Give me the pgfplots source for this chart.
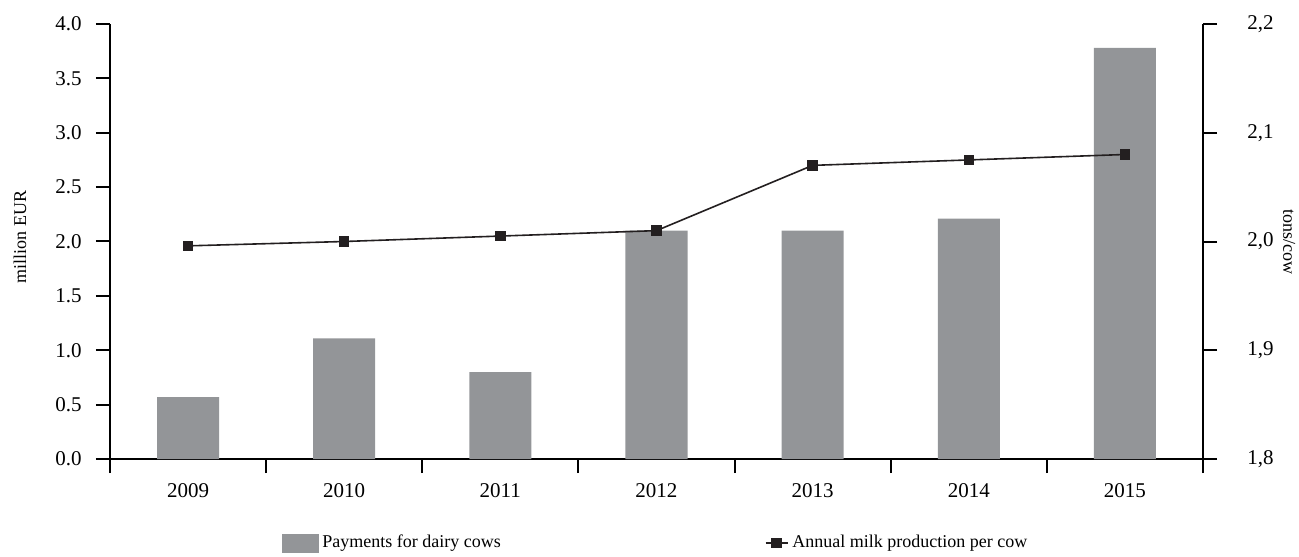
\documentclass[border=0pt]{standalone}
\usepackage{pgfplots}
\pgfplotsset{compat=1.18}
\usepackage{fontspec}
\setmainfont{Liberation Serif}

\definecolor{barcol}{RGB}{147,149,152}
\definecolor{linecol}{RGB}{35,31,32}

\pgfplotsset{
  lineleg/.style={legend image code/.code={%
    \draw[##1, mark repeat=2, mark phase=2] plot coordinates {(0pt,0pt) (5.5pt,0pt) (11pt,0pt)};}},
  barleg/.style={legend image code/.code={%
    \fill[barcol] (0pt,-4.5pt) rectangle (18pt,4.5pt);}},
}

\begin{document}
\fontsize{9}{11}\selectfont
\begin{tikzpicture}
  \pgfplotsset{
    every axis/.append style={
      scale only axis,
      width=546.5pt, height=217.5pt,
      xmin=-0.5, xmax=6.5,
      tick align=outside,
      major tick length=7pt,
      tick style={line width=1pt, color=black},
      axis line style={line width=1pt, color=black},
      tick label style={font=\fontsize{10.5}{12}\selectfont},
      label style={font=\fontsize{10.5}{12}\selectfont},
      /pgf/number format/assume math mode=true,
    },
  }
  % bars: payments
  \begin{axis}[
    axis x line*=bottom,
    axis y line*=left,
    ymin=0, ymax=4,
    ytick={0,0.5,...,4},
    yticklabel style={xshift=-4pt, /pgf/number format/.cd, fixed, fixed zerofill, precision=1},
    xtick={-0.5,0.5,...,6.5},
    xticklabels={2009,2010,2011,2012,2013,2014,2015},
    x tick label as interval,
    xticklabel style={yshift=-2pt},
    ylabel={million EUR},
    every axis y label/.style={at={(axis description cs:-0.0823,0.51)}, rotate=90, anchor=center},
    ybar, bar width=31pt,
  ]
    \addplot[fill=barcol, draw=none] coordinates {
      (0,0.57) (1,1.11) (2,0.80) (3,2.10) (4,2.10) (5,2.21) (6,3.78)
    };
  \end{axis}
  % line: milk production
  \begin{axis}[
    axis x line=none,
    axis y line*=right,
    ymin=1.8, ymax=2.2,
    ytick={1.8,1.9,...,2.2},
    yticklabel style={xshift=12pt, /pgf/number format/.cd, fixed, fixed zerofill, precision=1, use comma},
    ylabel={tons/cow},
    every axis y label/.style={at={(axis description cs:1.079,0.5)}, rotate=-90, anchor=center},
    legend columns=2,
    legend style={at={(axis description cs:0.5,-0.193)}, anchor=center, draw=none, fill=none,
      font=\fontsize{9}{11}\selectfont,
      /tikz/every even column/.append style={column sep=130pt}},
  ]
    \addlegendimage{barleg}
    \addlegendentry{Payments for dairy cows}
    \addplot[color=linecol, line width=0.8pt, mark=square*, mark size=2.2pt,
      mark options={solid, fill=linecol}, lineleg]
      coordinates {
      (0,1.996) (1,2.000) (2,2.005) (3,2.010) (4,2.070) (5,2.075) (6,2.080)
    };
    \addlegendentry{Annual milk production per cow}
  \end{axis}
  \pgfresetboundingbox
  \path (-55pt,-48.5pt) rectangle (594.5pt,229.5pt);
\end{tikzpicture}
\end{document}
